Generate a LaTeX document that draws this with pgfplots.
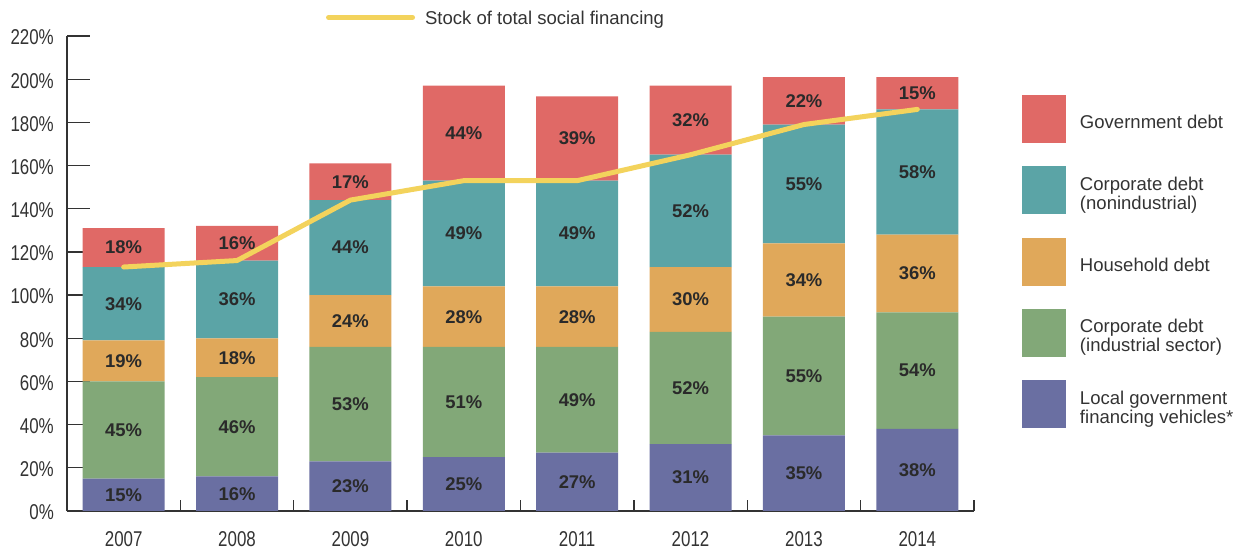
\documentclass[border=0pt]{standalone}
\usepackage{fontspec}
\setmainfont{Liberation Sans}
\newfontfamily\condfont[FakeStretch=0.79]{Liberation Sans}
\usepackage{pgfplots}
\pgfplotsset{compat=1.18}
\usepackage{pgfplotstable}
\definecolor{cgov}{HTML}{E06966}
\definecolor{cnon}{HTML}{5BA4A6}
\definecolor{chh}{HTML}{E0A85A}
\definecolor{cind}{HTML}{82A878}
\definecolor{clg}{HTML}{6A6FA2}
\definecolor{cline}{HTML}{F3D35C}
\definecolor{ctext}{HTML}{333333}
\definecolor{clab}{HTML}{2A2A2A}
\newcommand\f{\fontsize{18.6}{19}\selectfont}
\newcommand\ft{\condfont\fontsize{21.5}{22}\selectfont}

\pgfplotstableread{
x lg ind hh non gov total
0 15 45 19 34 18 113
1 16 46 18 36 16 116
2 23 53 24 44 17 144
3 25 51 28 49 44 153
4 27 49 28 49 39 153
5 31 52 30 52 32 165
6 35 55 34 55 22 179
7 38 54 36 58 15 186
}\data

\pgfplotstableread{
x y label
0 7.5 15
0 37.5 45
0 69.5 19
0 96 34
0 122 18
1 8 16
1 39 46
1 71 18
1 98 36
1 124 16
2 11.5 23
2 49.5 53
2 88 24
2 122 44
2 152.5 17
3 12.5 25
3 50.5 51
3 90 28
3 128.5 49
3 175 44
4 13.5 27
4 51.5 49
4 90 28
4 128.5 49
4 172.5 39
5 15.5 31
5 57 52
5 98 30
5 139 52
5 181 32
6 17.5 35
6 62.5 55
6 107 34
6 151.5 55
6 190 22
7 19 38
7 65 54
7 110 36
7 157 58
7 193.5 15
}\labels

\pgfplotsset{base/.style={
  scale only axis, width=907bp, height=475bp,
  xmin=-0.5, xmax=7.5, ymin=0, ymax=220,
  at={(67bp,38bp)}, anchor=south west,
}}

\begin{document}
\begin{tikzpicture}
\path[use as bounding box] (0,0) rectangle (1237bp,549bp);
\begin{axis}[base,
  ybar stacked, bar width=0.723,
  axis lines*=left,
  axis line style={ctext, line width=1.3bp},
  tick style={ctext, line width=1.3bp},
  tick align=inside,
  major tick length=23bp, minor tick length=11bp,
  xtick={0,...,7},
  xticklabels={2007,2008,2009,2010,2011,2012,2013,2014},
  minor xtick={0.5,1.5,...,7.5},
  major x tick style={draw=none},
  ytick={0,20,...,220},
  yticklabels={0\%,20\%,40\%,60\%,80\%,100\%,120\%,140\%,160\%,180\%,200\%,220\%},
  tick label style={font=\ft, text=ctext},
  yticklabel style={inner sep=0pt, xshift=-13bp, yshift=-1.5bp},
  xticklabel style={inner sep=0pt, yshift=-20.5bp},
  reverse legend,
  legend style={at={(1.0529,0.8758)}, anchor=north west, draw=none, fill=none,
    inner sep=0pt, outer sep=0pt, row sep=23.3bp, column sep=14bp,
    font=\f, text=ctext, cells={anchor=west, align=left}, nodes={inner sep=0pt, yshift=-3.5bp}},
  legend image code/.code={\fill[#1, draw=none] (0bp,-24bp) rectangle (44bp,24bp);},
]
\addplot[fill=clg, draw=none] table[x=x,y=lg]{\data};
\addlegendentry{Local government\\financing vehicles*}
\addplot[fill=cind, draw=none] table[x=x,y=ind]{\data};
\addlegendentry{Corporate debt\\(industrial sector)}
\addplot[fill=chh, draw=none] table[x=x,y=hh]{\data};
\addlegendentry{Household debt}
\addplot[fill=cnon, draw=none] table[x=x,y=non]{\data};
\addlegendentry{Corporate debt\\(nonindustrial)}
\addplot[fill=cgov, draw=none] table[x=x,y=gov]{\data};
\addlegendentry{Government debt}
\end{axis}
\begin{axis}[base, hide axis, clip=false,
  legend style={at={(0.2856,1.0358)}, anchor=west, draw=none, fill=none,
    inner sep=0pt, outer sep=0pt, column sep=10bp,
    font=\f, text=ctext, cells={anchor=west}, nodes={inner sep=0pt, yshift=-1.5bp}},
  legend image code/.code={\draw[#1] (0bp,0bp) -- (84bp,0bp);},
]
\addplot[cline, line width=5bp, line cap=round, line join=round] table[x=x,y=total]{\data};
\addlegendentry{Stock of total social financing}
\addplot[forget plot, only marks, mark=*, mark size=0pt, mark options={draw=none, fill=none},
  point meta=explicit symbolic,
  nodes near coords={\bfseries\pgfplotspointmeta\%},
  every node near coord/.append style={anchor=center, font=\fontsize{18.5}{19}\selectfont, text=clab, inner sep=0pt}]
  table[x=x,y=y,meta=label]{\labels};
\end{axis}
\end{tikzpicture}
\end{document}
